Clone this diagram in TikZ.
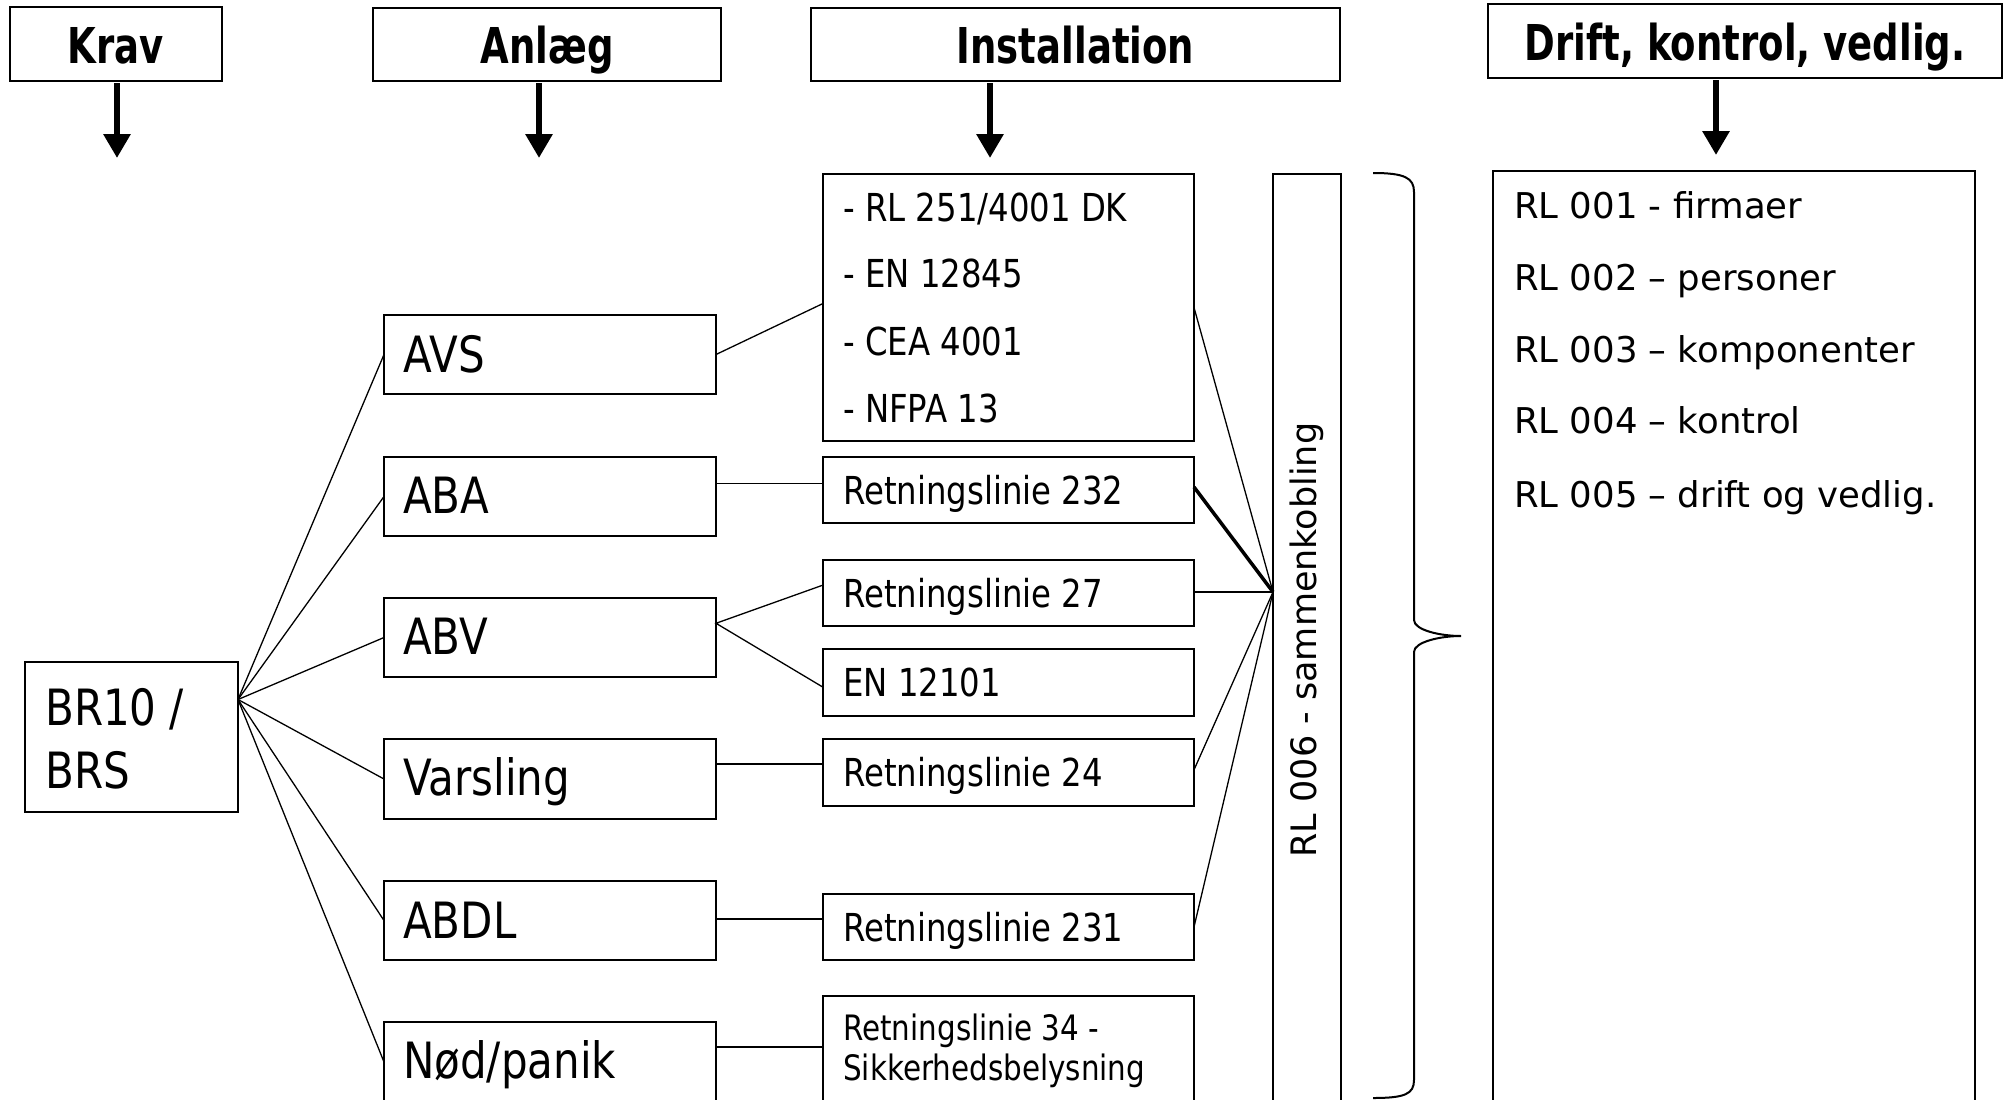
\documentclass[tikz,border=0pt]{standalone}
\usepackage{fontspec}
\setmainfont{DejaVu Sans}
\newfontfamily\tahfont{DejaVu Sans}[FakeStretch=0.84]
\newfontfamily\hdrfont{DejaVu Sans}[FakeStretch=0.75]
\usetikzlibrary{arrows.meta,calc}
\begin{document}
\begin{tikzpicture}[x=1pt,y=-1pt,
  bx/.style={draw, line width=2pt, rectangle, inner sep=0pt, outer sep=0pt, anchor=north west},
  hdrtxt/.style={font=\hdrfont\bfseries\fontsize{49.4}{50}\selectfont, anchor=base, inner sep=0pt},
  bigtxt/.style={font=\tahfont\fontsize{50}{52}\selectfont, anchor=base west, inner sep=0pt},
  midtxt/.style={font=\tahfont\fontsize{38.5}{40}\selectfont, anchor=base west, inner sep=0pt},
  smtxt/.style={font=\tahfont\fontsize{35}{36}\selectfont, anchor=base west, inner sep=0pt},
  vtxt/.style={font=\fontsize{35.5}{36}\selectfont, anchor=base west, inner sep=0pt},
  conn/.style={line width=1.3pt},
  thickconn/.style={line width=3.5pt},
  bigarrow/.style={line width=6.5pt, -{Triangle[width=26pt,length=24pt]}},
  bracestyle/.style={line width=2pt},
]
\useasboundingbox (0,0) rectangle (2005,1100);
\fill[white] (0,0) rectangle (2005,1100);
\clip (0,0) rectangle (2005,1100);

% headers
\node[bx, minimum width=212pt, minimum height=74pt] (krav) at (10,7) {};
\node[hdrtxt] (kravt) at (116,63) {Krav};
\node[bx, minimum width=348pt, minimum height=73pt] (anlaeg) at (373,8) {};
\node[hdrtxt] (anlaegt) at (547,63) {Anlæg};
\node[bx, minimum width=529pt, minimum height=73pt] (inst) at (811,8) {};
\node[hdrtxt] (instt) at (1075.5,63) {Installation};
\node[bx, minimum width=514pt, minimum height=74pt] (drift) at (1488,4) {};
\node[hdrtxt] (driftt) at (1745,60) {Drift, kontrol, vedlig.};

% header arrows
\coordinate (a1s) at (117,83);  \coordinate (a1e) at (117,158);
\coordinate (a2s) at (539,83);  \coordinate (a2e) at (539,158);
\coordinate (a3s) at (990,83);  \coordinate (a3e) at (990,158);
\coordinate (a4s) at (1716,80); \coordinate (a4e) at (1716,155);
\draw[bigarrow] (a1s) -- (a1e);
\draw[bigarrow] (a2s) -- (a2e);
\draw[bigarrow] (a3s) -- (a3e);
\draw[bigarrow] (a4s) -- (a4e);

% BR10 / BRS
\node[bx, minimum width=213pt, minimum height=150pt] (br) at (25,662) {};
\node[bigtxt] (brt1) at (45,725) {BR10 /};
\node[bigtxt] (brt2) at (45,788) {BRS};

% Anlaeg column
\node[bx, minimum width=332pt, minimum height=79pt] (avs) at (384,315) {};
\node[bigtxt] (avst) at (403,372) {AVS};
\node[bx, minimum width=332pt, minimum height=79pt] (aba) at (384,457) {};
\node[bigtxt] (abat) at (403,513) {ABA};
\node[bx, minimum width=332pt, minimum height=79pt] (abv) at (384,598) {};
\node[bigtxt] (abvt) at (403,654) {ABV};
\node[bx, minimum width=332pt, minimum height=80pt] (vars) at (384,739) {};
\node[bigtxt] (varst) at (403,795) {Varsling};
\node[bx, minimum width=332pt, minimum height=79pt] (abdl) at (384,881) {};
\node[bigtxt] (abdlt) at (403,938) {ABDL};
\node[bx, minimum width=332pt, minimum height=80pt] (nod) at (384,1022) {};
\node[bigtxt] (nodt) at (403,1078) {Nød/panik};

% Installation column
\node[bx, minimum width=371pt, minimum height=267pt] (rl251) at (823,174) {};
\node[midtxt] (rl251a) at (843,221) {- RL 251/4001 DK};
\node[midtxt] (rl251b) at (843,287) {- EN 12845};
\node[midtxt] (rl251c) at (843,355) {- CEA 4001};
\node[midtxt] (rl251d) at (843,422) {- NFPA 13};
\node[bx, minimum width=371pt, minimum height=66pt] (rl232) at (823,457) {};
\node[midtxt] (rl232t) at (843,504) {Retningslinie 232};
\node[bx, minimum width=371pt, minimum height=66pt] (rl27) at (823,560) {};
\node[midtxt] (rl27t) at (843,607) {Retningslinie 27};
\node[bx, minimum width=371pt, minimum height=67pt] (en) at (823,649) {};
\node[midtxt] (ent) at (843,696) {EN 12101};
\node[bx, minimum width=371pt, minimum height=67pt] (rl24) at (823,739) {};
\node[midtxt] (rl24t) at (843,786) {Retningslinie 24};
\node[bx, minimum width=371pt, minimum height=66pt] (rl231) at (823,894) {};
\node[midtxt] (rl231t) at (843,941) {Retningslinie 231};
\node[bx, minimum width=371pt, minimum height=150pt] (rl34) at (823,996) {};
\node[smtxt] (rl34a) at (843,1040) {Retningslinie 34 -};
\node[smtxt] (rl34b) at (843,1080) {Sikkerhedsbelysning};

% RL 006
\node[bx, minimum width=68pt, minimum height=1000pt] (rl006) at (1273,174) {};
\node[font=\fontsize{35}{36}\selectfont, rotate=90, inner sep=0pt] (rl006t) at (1307,640) {RL 006 - sammenkobling};

% right panel
\node[bx, minimum width=482pt, minimum height=1000pt] (drl) at (1493,171) {};
\node[vtxt] (d1) at (1514,218) {RL 001 - firmaer};
\node[vtxt] (d2) at (1514,290) {RL 002 – personer};
\node[vtxt] (d3) at (1514,362) {RL 003 – komponenter};
\node[vtxt] (d4) at (1514,433) {RL 004 – kontrol};
\node[vtxt] (d5) at (1514,507) {RL 005 – drift og vedlig.};

% brace
\draw[bracestyle] (1373,173) .. controls (1405,173) and (1414,178) .. (1414,192)
  -- (1414,620) .. controls (1414,630) and (1440,636) .. (1461,636)
  .. controls (1440,636) and (1414,642) .. (1414,652)
  -- (1414,1080) .. controls (1414,1094) and (1405,1098) .. (1373,1098);

% BR10 fan
\coordinate (brpt) at ($(br.north east)!0.25!(br.south east)$);
\foreach \n in {avs,aba,abv,vars,abdl,nod}
  \draw[conn] (brpt) -- (\n.west);

% Anlaeg -> installation
\coordinate (p251) at ($(rl251.north west)!0.485!(rl251.south west)$);
\draw[conn] (avs.east) -- (p251);
\coordinate (p232) at ($(rl232.north west)!0.4!(rl232.south west)$);
\draw[conn] (aba.east |- p232) -- (p232);
\coordinate (pabv) at ($(abv.north east)!0.32!(abv.south east)$);
\coordinate (p27) at ($(rl27.north west)!0.38!(rl27.south west)$);
\coordinate (pen) at ($(en.north west)!0.57!(en.south west)$);
\draw[conn] (p27) -- (pabv) -- (pen);
\coordinate (p24) at ($(rl24.north west)!0.373!(rl24.south west)$);
\draw[conn] (vars.east |- p24) -- (p24);
\coordinate (p231) at ($(rl231.north west)!0.38!(rl231.south west)$);
\draw[conn] (abdl.east |- p231) -- (p231);
\coordinate (p34) at ($(rl34.north west)!0.34!(rl34.south west)$);
\draw[conn] (nod.east |- p34) -- (p34);

% installation -> RL 006
\coordinate (conv) at ($(rl006.north west)!0.418!(rl006.south west)$);
\draw[conn] (rl251.east) -- (conv);
\coordinate (q232) at ($(rl232.north east)!0.455!(rl232.south east)$);
\draw[thickconn] (q232) -- (conv);
\draw[conn] (rl27.east |- conv) -- (conv);
\coordinate (q24) at ($(rl24.north east)!0.46!(rl24.south east)$);
\draw[conn] (q24) -- (conv);
\draw[conn] (rl231.east) -- (conv);
\end{tikzpicture}
\end{document}
